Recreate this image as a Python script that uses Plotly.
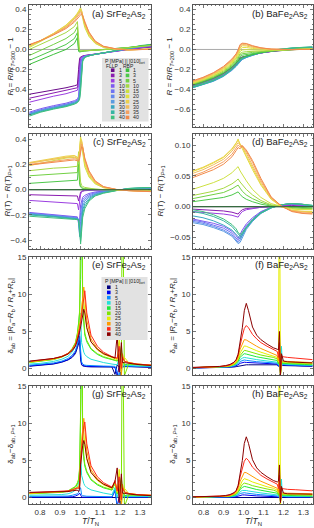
import plotly.graph_objects as go

W, H = 314, 528
FONT = "Liberation Sans, Arial, sans-serif"

P = [1, 3, 5, 10, 15, 20, 25, 30, 35, 40]
FLLP_COLORS = ['#6a0a8a', '#8a1cb0', '#9b3ee0', '#7e5af0', '#6f72f2', '#6488ec', '#5a9be0', '#3aa7c0', '#36b5a2', '#40c07e']
RBP_COLORS = ['#3cc03c', '#4cc84a', '#72d044', '#a6d844', '#cde040', '#e2e040', '#ecd04c', '#f2bc5c', '#f4a062', '#f28a4a']
DELTA_COLORS = ['#000080', '#0000f0', '#0a8cff', '#22e0d8', '#1ee83a', '#7fe600', '#e6ee00', '#ff9a00', '#ff2a1a', '#8b0000']

# ---------------- (a) SrFe2As2 R ----------------
TA = [0.747, 0.804, 0.867, 0.930, 0.972, 0.987, 0.993, 0.998, 1.003, 1.008, 1.0135, 1.024, 1.045, 1.076, 1.118, 1.181, 1.243, 1.306, 1.358]
A_FLLP = [
    [-0.45, -0.43, -0.41, -0.385, -0.365, -0.355, -0.20, -0.09, -0.075, -0.07, -0.065, -0.06, -0.055, -0.045, -0.035, -0.015, 0.0, 0.015, 0.025],
    [-0.49, -0.465, -0.44, -0.415, -0.395, -0.385, -0.30, -0.11, -0.08, -0.072, -0.067, -0.062, -0.056, -0.046, -0.035, -0.015, 0.002, 0.017, 0.028],
    [-0.53, -0.50, -0.47, -0.445, -0.42, -0.41, -0.36, -0.16, -0.09, -0.075, -0.068, -0.063, -0.057, -0.047, -0.036, -0.015, 0.003, 0.02, 0.03],
    [-0.63, -0.595, -0.565, -0.54, -0.515, -0.50, -0.47, -0.30, -0.13, -0.09, -0.075, -0.066, -0.058, -0.048, -0.036, -0.014, 0.006, 0.025, 0.036],
    [-0.64, -0.605, -0.575, -0.55, -0.525, -0.51, -0.49, -0.38, -0.17, -0.10, -0.08, -0.068, -0.059, -0.048, -0.036, -0.013, 0.008, 0.028, 0.04],
    [-0.645, -0.61, -0.58, -0.555, -0.53, -0.515, -0.50, -0.43, -0.22, -0.12, -0.085, -0.07, -0.06, -0.048, -0.035, -0.012, 0.01, 0.03, 0.042],
    [-0.65, -0.615, -0.585, -0.56, -0.535, -0.52, -0.505, -0.46, -0.28, -0.14, -0.09, -0.072, -0.06, -0.048, -0.035, -0.011, 0.012, 0.033, 0.045],
    [-0.655, -0.62, -0.59, -0.565, -0.54, -0.525, -0.51, -0.48, -0.33, -0.16, -0.10, -0.075, -0.062, -0.049, -0.035, -0.01, 0.014, 0.036, 0.048],
    [-0.66, -0.625, -0.595, -0.57, -0.545, -0.53, -0.515, -0.49, -0.38, -0.19, -0.11, -0.078, -0.063, -0.049, -0.034, -0.009, 0.016, 0.038, 0.05],
    [-0.67, -0.63, -0.60, -0.575, -0.55, -0.535, -0.52, -0.50, -0.42, -0.22, -0.12, -0.08, -0.064, -0.05, -0.034, -0.008, 0.018, 0.04, 0.052],
]
A_RBP = [
    [-0.15, -0.10, -0.05, 0.0, 0.06, 0.12, -0.02, -0.025, -0.022, -0.02, -0.018, -0.015, -0.012, -0.008, -0.003, 0.008, 0.02, 0.035, 0.045],
    [-0.11, -0.06, 0.0, 0.05, 0.11, 0.17, 0.0, -0.02, -0.02, -0.018, -0.016, -0.014, -0.011, -0.007, -0.002, 0.008, 0.02, 0.034, 0.044],
    [-0.06, -0.01, 0.05, 0.11, 0.17, 0.23, 0.02, -0.015, -0.018, -0.016, -0.015, -0.013, -0.01, -0.006, -0.002, 0.007, 0.019, 0.032, 0.042],
    [0.0, 0.05, 0.11, 0.17, 0.23, 0.28, 0.05, -0.01, -0.015, -0.014, -0.013, -0.012, -0.01, -0.006, -0.002, 0.006, 0.017, 0.03, 0.04],
    [0.02, 0.08, 0.15, 0.23, 0.31, 0.35, 0.37, 0.39, 0.40, 0.36, 0.30, 0.22, 0.13, 0.06, 0.02, 0.002, -0.003, 0.0, 0.005],
    [0.03, 0.09, 0.16, 0.245, 0.325, 0.365, 0.385, 0.405, 0.42, 0.39, 0.33, 0.24, 0.14, 0.065, 0.022, 0.002, -0.004, 0.0, 0.004],
    [0.035, 0.09, 0.16, 0.24, 0.32, 0.355, 0.375, 0.39, 0.405, 0.39, 0.34, 0.25, 0.15, 0.07, 0.025, 0.003, -0.004, 0.0, 0.004],
    [0.04, 0.09, 0.155, 0.23, 0.305, 0.34, 0.355, 0.37, 0.385, 0.38, 0.34, 0.26, 0.16, 0.075, 0.028, 0.004, -0.004, -0.001, 0.003],
    [0.045, 0.09, 0.15, 0.22, 0.29, 0.325, 0.34, 0.355, 0.37, 0.37, 0.34, 0.27, 0.17, 0.08, 0.03, 0.005, -0.004, -0.001, 0.003],
    [0.05, 0.09, 0.145, 0.21, 0.275, 0.305, 0.32, 0.335, 0.35, 0.355, 0.335, 0.27, 0.175, 0.085, 0.032, 0.006, -0.004, -0.002, 0.002],
]

# ---------------- (b) BaFe2As2 R ----------------
TB = [0.745, 0.797, 0.849, 0.900, 0.942, 0.963, 0.973, 0.983, 0.994, 1.014, 1.045, 1.087, 1.138, 1.190, 1.242, 1.293, 1.345]
B_FLLP = [
    [-0.355, -0.325, -0.29, -0.24, -0.18, -0.14, -0.11, -0.085, -0.075, -0.065, -0.05, -0.035, -0.02, -0.01, -0.003, 0.002, 0.005],
    [-0.36, -0.33, -0.295, -0.245, -0.185, -0.145, -0.12, -0.095, -0.08, -0.068, -0.052, -0.035, -0.018, -0.007, 0.0, 0.005, 0.008],
    [-0.365, -0.335, -0.30, -0.25, -0.19, -0.15, -0.125, -0.10, -0.085, -0.07, -0.053, -0.034, -0.016, -0.005, 0.003, 0.008, 0.011],
    [-0.37, -0.34, -0.305, -0.255, -0.195, -0.155, -0.13, -0.105, -0.09, -0.073, -0.054, -0.034, -0.015, -0.003, 0.005, 0.011, 0.014],
    [-0.375, -0.345, -0.31, -0.26, -0.20, -0.16, -0.135, -0.11, -0.095, -0.076, -0.055, -0.033, -0.014, -0.001, 0.007, 0.013, 0.017],
    [-0.38, -0.35, -0.315, -0.265, -0.205, -0.165, -0.14, -0.115, -0.098, -0.078, -0.056, -0.033, -0.013, 0.0, 0.009, 0.015, 0.019],
    [-0.385, -0.355, -0.32, -0.27, -0.21, -0.17, -0.145, -0.118, -0.10, -0.08, -0.057, -0.033, -0.012, 0.002, 0.011, 0.017, 0.021],
    [-0.385, -0.355, -0.318, -0.268, -0.207, -0.168, -0.143, -0.115, -0.098, -0.078, -0.055, -0.031, -0.01, 0.004, 0.013, 0.019, 0.023],
    [-0.38, -0.35, -0.312, -0.262, -0.20, -0.16, -0.135, -0.108, -0.092, -0.073, -0.051, -0.028, -0.008, 0.005, 0.014, 0.02, 0.025],
    [-0.375, -0.345, -0.307, -0.256, -0.195, -0.155, -0.13, -0.10, -0.085, -0.068, -0.047, -0.025, -0.006, 0.006, 0.015, 0.021, 0.026],
]
B_RBP = [
    [-0.36, -0.33, -0.29, -0.24, -0.18, -0.14, -0.115, -0.09, -0.078, -0.066, -0.05, -0.034, -0.018, -0.008, 0.0, 0.005, 0.008],
    [-0.355, -0.322, -0.283, -0.232, -0.17, -0.128, -0.10, -0.07, -0.058, -0.05, -0.04, -0.028, -0.015, -0.006, 0.0, 0.004, 0.007],
    [-0.35, -0.317, -0.277, -0.225, -0.16, -0.117, -0.088, -0.055, -0.043, -0.036, -0.03, -0.022, -0.012, -0.005, 0.0, 0.003, 0.006],
    [-0.345, -0.312, -0.27, -0.216, -0.15, -0.105, -0.075, -0.04, -0.028, -0.022, -0.02, -0.016, -0.009, -0.004, 0.0, 0.003, 0.005],
    [-0.34, -0.306, -0.263, -0.207, -0.14, -0.093, -0.06, -0.02, -0.005, -0.002, -0.005, -0.007, -0.005, -0.002, 0.0, 0.002, 0.004],
    [-0.335, -0.30, -0.256, -0.198, -0.128, -0.08, -0.045, 0.0, 0.02, 0.02, 0.01, 0.002, -0.002, -0.002, 0.0, 0.002, 0.003],
    [-0.33, -0.295, -0.25, -0.19, -0.118, -0.068, -0.032, 0.015, 0.038, 0.035, 0.02, 0.008, 0.0, -0.002, 0.0, 0.001, 0.002],
    [-0.325, -0.29, -0.244, -0.183, -0.11, -0.058, -0.02, 0.03, 0.05, 0.046, 0.028, 0.012, 0.002, -0.002, -0.001, 0.001, 0.002],
    [-0.32, -0.285, -0.238, -0.176, -0.102, -0.05, -0.01, 0.042, 0.058, 0.055, 0.034, 0.015, 0.003, -0.002, -0.001, 0.0, 0.001],
    [-0.315, -0.28, -0.233, -0.17, -0.095, -0.043, -0.003, 0.05, 0.063, 0.06, 0.038, 0.017, 0.004, -0.002, -0.002, 0.0, 0.0],
]

# ---------------- (c) SrFe2As2 dR ----------------
TC = [0.747, 0.804, 0.867, 0.930, 0.972, 0.987, 0.993, 0.998, 1.003, 1.008, 1.0135, 1.024, 1.045, 1.076, 1.118, 1.181, 1.243, 1.306, 1.358]
C_FLLP = [
    [0.0, 0.0, 0.0, 0.0, 0.0, 0.0, 0.0, 0.0, 0.0, 0.0, 0.0, 0.0, 0.0, 0.0, 0.0, 0.0, 0.0, 0.0, 0.0],
    [-0.04, -0.042, -0.044, -0.046, -0.048, -0.05, -0.09, -0.04, -0.02, -0.012, -0.008, -0.005, -0.003, -0.002, -0.001, 0.0, 0.002, 0.003, 0.003],
    [-0.085, -0.09, -0.095, -0.1, -0.105, -0.11, -0.16, -0.08, -0.035, -0.02, -0.013, -0.008, -0.005, -0.003, -0.001, 0.001, 0.003, 0.004, 0.005],
    [-0.18, -0.187, -0.196, -0.205, -0.21, -0.215, -0.27, -0.24, -0.12, -0.08, -0.06, -0.045, -0.03, -0.018, -0.01, -0.002, 0.005, 0.008, 0.01],
    [-0.185, -0.192, -0.2, -0.21, -0.215, -0.22, -0.25, -0.31, -0.18, -0.11, -0.08, -0.06, -0.04, -0.024, -0.013, -0.003, 0.006, 0.01, 0.012],
    [-0.19, -0.196, -0.205, -0.215, -0.22, -0.225, -0.24, -0.35, -0.25, -0.15, -0.1, -0.075, -0.05, -0.03, -0.016, -0.004, 0.007, 0.011, 0.013],
    [-0.19, -0.2, -0.21, -0.22, -0.225, -0.23, -0.235, -0.37, -0.32, -0.19, -0.13, -0.09, -0.06, -0.035, -0.019, -0.005, 0.008, 0.012, 0.014],
    [-0.195, -0.2, -0.21, -0.22, -0.226, -0.23, -0.235, -0.36, -0.38, -0.24, -0.16, -0.11, -0.07, -0.04, -0.022, -0.006, 0.009, 0.013, 0.015],
    [-0.2, -0.205, -0.215, -0.225, -0.23, -0.232, -0.236, -0.33, -0.41, -0.29, -0.19, -0.13, -0.08, -0.045, -0.025, -0.007, 0.009, 0.014, 0.016],
    [-0.21, -0.215, -0.225, -0.23, -0.235, -0.237, -0.24, -0.3, -0.43, -0.33, -0.22, -0.15, -0.09, -0.05, -0.028, -0.008, 0.01, 0.015, 0.017],
]
C_RBP = [
    [0.0, 0.0, 0.0, 0.0, 0.0, 0.0, 0.0, 0.0, 0.0, 0.0, 0.0, 0.0, 0.0, 0.0, 0.0, 0.0, 0.0, 0.0, 0.0],
    [0.05, 0.055, 0.06, 0.065, 0.07, 0.075, 0.2, 0.04, 0.02, 0.012, 0.008, 0.005, 0.003, 0.001, 0.0, -0.001, -0.002, -0.003, -0.003],
    [0.11, 0.115, 0.12, 0.125, 0.13, 0.135, 0.28, 0.07, 0.03, 0.018, 0.012, 0.008, 0.005, 0.002, 0.0, -0.001, -0.003, -0.004, -0.004],
    [0.15, 0.16, 0.17, 0.175, 0.18, 0.185, 0.3, 0.14, 0.06, 0.035, 0.025, 0.018, 0.01, 0.004, 0.001, -0.001, -0.003, -0.005, -0.006],
    [0.19, 0.21, 0.23, 0.25, 0.255, 0.245, 0.24, 0.3, 0.4, 0.35, 0.28, 0.18, 0.1, 0.045, 0.015, 0.0, -0.006, -0.01, -0.012],
    [0.21, 0.225, 0.245, 0.262, 0.268, 0.255, 0.248, 0.32, 0.42, 0.38, 0.31, 0.2, 0.11, 0.05, 0.017, 0.0, -0.007, -0.011, -0.013],
    [0.215, 0.23, 0.25, 0.265, 0.27, 0.258, 0.25, 0.3, 0.4, 0.39, 0.33, 0.22, 0.12, 0.055, 0.019, 0.001, -0.007, -0.011, -0.013],
    [0.21, 0.222, 0.24, 0.255, 0.258, 0.248, 0.242, 0.28, 0.37, 0.38, 0.34, 0.23, 0.13, 0.06, 0.02, 0.001, -0.008, -0.012, -0.014],
    [0.2, 0.212, 0.228, 0.242, 0.245, 0.238, 0.233, 0.26, 0.34, 0.36, 0.34, 0.24, 0.14, 0.065, 0.022, 0.002, -0.008, -0.012, -0.015],
    [0.195, 0.205, 0.22, 0.232, 0.235, 0.228, 0.225, 0.245, 0.31, 0.34, 0.33, 0.25, 0.15, 0.07, 0.024, 0.002, -0.008, -0.013, -0.016],
]

# ---------------- (d) BaFe2As2 dR ----------------
TD = [0.745, 0.797, 0.849, 0.900, 0.942, 0.963, 0.973, 0.983, 0.994, 1.014, 1.045, 1.087, 1.138, 1.190, 1.242, 1.293, 1.345]
D_FLLP = [
    [0.0, 0.0, 0.0, 0.0, 0.0, 0.0, 0.0, 0.0, 0.0, 0.0, 0.0, 0.0, 0.0, 0.0, 0.0, 0.0, 0.0],
    [-0.004, -0.005, -0.006, -0.007, -0.009, -0.011, -0.012, -0.008, -0.005, -0.003, -0.002, -0.001, 0.0, 0.001, 0.002, 0.001, 0.0],
    [-0.008, -0.009, -0.01, -0.012, -0.014, -0.016, -0.017, -0.012, -0.008, -0.005, -0.003, -0.001, 0.0, 0.002, 0.003, 0.002, 0.0],
    [-0.02, -0.023, -0.027, -0.032, -0.04, -0.047, -0.052, -0.045, -0.038, -0.028, -0.018, -0.008, -0.001, 0.003, 0.004, 0.003, 0.001],
    [-0.022, -0.025, -0.03, -0.035, -0.043, -0.05, -0.055, -0.05, -0.042, -0.031, -0.02, -0.009, -0.001, 0.003, 0.005, 0.003, 0.001],
    [-0.024, -0.027, -0.032, -0.038, -0.046, -0.053, -0.058, -0.054, -0.046, -0.034, -0.022, -0.01, -0.002, 0.003, 0.005, 0.004, 0.001],
    [-0.026, -0.029, -0.034, -0.04, -0.048, -0.055, -0.06, -0.058, -0.05, -0.037, -0.024, -0.011, -0.002, 0.003, 0.005, 0.004, 0.001],
    [-0.015, -0.018, -0.023, -0.03, -0.038, -0.045, -0.05, -0.052, -0.046, -0.035, -0.023, -0.011, -0.002, 0.003, 0.005, 0.004, 0.002],
    [-0.008, -0.011, -0.016, -0.023, -0.032, -0.04, -0.045, -0.048, -0.044, -0.034, -0.022, -0.01, -0.002, 0.003, 0.005, 0.004, 0.002],
    [-0.005, -0.008, -0.013, -0.02, -0.029, -0.036, -0.042, -0.045, -0.042, -0.033, -0.021, -0.01, -0.001, 0.003, 0.005, 0.004, 0.002],
]
D_RBP = [
    [0.0, 0.0, 0.0, 0.0, 0.0, 0.0, 0.0, 0.0, 0.0, 0.0, 0.0, 0.0, 0.0, 0.0, 0.0, 0.0, 0.0],
    [0.008, 0.01, 0.012, 0.015, 0.019, 0.022, 0.024, 0.02, 0.016, 0.012, 0.008, 0.004, 0.001, 0.0, -0.001, -0.002, -0.002],
    [0.013, 0.016, 0.019, 0.023, 0.029, 0.033, 0.035, 0.03, 0.025, 0.019, 0.013, 0.007, 0.002, 0.0, -0.002, -0.003, -0.003],
    [0.018, 0.021, 0.025, 0.03, 0.037, 0.042, 0.045, 0.04, 0.035, 0.028, 0.019, 0.01, 0.003, 0.0, -0.003, -0.004, -0.004],
    [0.028, 0.033, 0.039, 0.046, 0.055, 0.062, 0.065, 0.058, 0.052, 0.042, 0.028, 0.015, 0.005, 0.0, -0.004, -0.005, -0.005],
    [0.057, 0.063, 0.071, 0.08, 0.093, 0.103, 0.11, 0.1, 0.094, 0.08, 0.06, 0.035, 0.012, 0.0, -0.006, -0.008, -0.008],
    [0.058, 0.064, 0.072, 0.081, 0.094, 0.104, 0.108, 0.102, 0.097, 0.083, 0.063, 0.037, 0.013, 0.0, -0.006, -0.008, -0.009],
    [0.054, 0.06, 0.068, 0.077, 0.09, 0.1, 0.104, 0.1, 0.098, 0.087, 0.068, 0.04, 0.014, 0.001, -0.007, -0.009, -0.01],
    [0.05, 0.056, 0.064, 0.073, 0.085, 0.095, 0.1, 0.097, 0.099, 0.09, 0.072, 0.043, 0.015, 0.001, -0.007, -0.01, -0.011],
    [0.047, 0.053, 0.06, 0.069, 0.081, 0.091, 0.096, 0.094, 0.099, 0.092, 0.075, 0.046, 0.016, 0.001, -0.008, -0.011, -0.012],
]

# ---------------- (e) SrFe2As2 delta_ab ----------------
TE = [0.747, 0.804, 0.867, 0.909, 0.940, 0.961, 0.977, 0.987, 0.993, 0.998, 1.003, 1.008, 1.0135, 1.019, 1.024, 1.034, 1.055, 1.087, 1.118, 1.160, 1.175, 1.186, 1.196, 1.207, 1.212, 1.222, 1.243, 1.285, 1.358]
E_DELTA = [
    [0.3, 0.4, 0.6, 0.85, 1.15, 1.5, 2.0, 2.8, 3.5, 3.8, 1.2, 0.5, 0.35, 0.3, 0.28, 0.25, 0.22, 0.2, 0.2, 0.2, -0.8, 0.5, 0.2, 0.3, 0.2, 0.25, 0.25, 0.2, 0.15],
    [0.35, 0.45, 0.65, 0.9, 1.2, 1.6, 2.2, 3.1, 3.9, 4.4, 1.5, 0.6, 0.4, 0.35, 0.32, 0.3, 0.27, 0.25, 0.25, 0.25, 0.1, -0.9, 0.3, 0.2, 0.3, 0.3, 0.3, 0.25, 0.2],
    [0.45, 0.55, 0.75, 1.0, 1.35, 1.8, 2.4, 3.3, 4.2, 5.1, 2.5, 0.9, 0.6, 0.5, 0.45, 0.42, 0.38, 0.35, 0.33, 0.3, 0.3, -0.5, -0.9, 0.5, 0.3, 0.35, 0.35, 0.3, 0.25],
    [0.6, 0.7, 0.95, 1.25, 1.65, 2.2, 3.0, 4.2, 5.3, 6.5, 7.5, 3.5, 2.6, 2.2, 1.9, 1.6, 1.25, 1.0, 0.8, 0.6, 0.55, 0.5, 1.5, -0.5, 0.5, 0.45, 0.4, 0.35, 0.3],
    [0.8, 0.95, 1.2, 1.55, 2.0, 2.6, 3.4, 4.6, 5.8, 7.5, 12, 25, 8, 5.5, 4.5, 3.6, 2.6, 1.9, 1.5, 1.2, 1.1, 1.0, 1.5, 3.0, 1.0, 0.5, 0.6, 0.5, 0.4],
    [0.85, 1.0, 1.25, 1.6, 2.05, 2.7, 3.5, 4.8, 6.0, 7.8, 13, 30, 9, 6, 4.8, 3.8, 2.7, 2.0, 1.6, 1.25, 1.15, 1.05, 1.2, 1.6, 30, -1, 0.6, 0.5, 0.4],
    [0.85, 1.0, 1.25, 1.55, 1.95, 2.5, 3.2, 4.2, 5.0, 5.8, 6.8, 8.0, 9.5, 9.0, 7.5, 5.5, 3.6, 2.5, 1.9, 1.4, 1.3, 1.2, 4.0, -1.0, 1.0, 1.5, 0.8, 0.6, 0.45],
    [0.9, 1.05, 1.3, 1.6, 2.0, 2.5, 3.2, 4.1, 4.8, 5.6, 6.6, 7.8, 9.5, 11.0, 9.5, 6.5, 4.0, 2.7, 2.0, 1.5, 1.4, 1.3, 2.0, -0.9, 2.0, 1.0, 0.8, 0.6, 0.45],
    [0.95, 1.1, 1.35, 1.65, 2.05, 2.55, 3.2, 4.1, 4.7, 5.4, 6.3, 7.3, 8.7, 10.0, 10.5, 7.5, 4.5, 3.0, 2.2, 1.6, 1.5, 1.4, 3.0, 0.0, 1.5, 1.0, 0.8, 0.6, 0.45],
    [1.0, 1.15, 1.35, 1.6, 1.95, 2.4, 3.0, 3.8, 4.3, 4.9, 5.6, 6.4, 7.4, 8.0, 7.5, 5.5, 3.6, 2.6, 2.0, 1.5, 1.4, 4.5, -0.5, 3.5, 0.8, 0.8, 0.7, 0.55, 0.4],
]

# ---------------- (g) SrFe2As2 delta_ab - delta_ab(P=1) ----------------
TG = [0.747, 0.804, 0.867, 0.909, 0.940, 0.961, 0.977, 0.987, 0.993, 0.998, 1.003, 1.008, 1.0135, 1.019, 1.024, 1.034, 1.055, 1.087, 1.118, 1.160, 1.175, 1.186, 1.196, 1.207, 1.212, 1.222, 1.243, 1.285, 1.358]
G_DELTA = [
    [0.0, 0.0, 0.0, 0.0, 0.0, 0.0, 0.0, 0.0, 0.0, 0.0, 0.0, 0.0, 0.0, 0.0, 0.0, 0.0, 0.0, 0.0, 0.0, 0.0, 0.0, 0.0, 0.0, 0.0, 0.0, 0.0, 0.0, 0.0, 0.0],
    [0.05, 0.05, 0.05, 0.05, 0.05, 0.1, 0.2, 0.3, 0.4, 0.6, 0.3, 0.1, 0.05, 0.05, 0.04, 0.05, 0.05, 0.05, 0.05, 0.05, 0.9, -1.2, 0.1, -0.1, 0.1, 0.05, 0.05, 0.05, 0.05],
    [0.15, 0.15, 0.15, 0.15, 0.2, 0.3, 0.4, 0.5, 0.7, 1.3, 1.3, 0.4, 0.25, 0.2, 0.17, 0.17, 0.16, 0.15, 0.13, 0.1, 1.1, -1.0, -1.1, 0.2, 0.1, 0.1, 0.1, 0.1, 0.1],
    [0.3, 0.3, 0.35, 0.4, 0.5, 0.7, 1.0, 1.4, 1.8, 2.7, 6.3, 3.0, 2.25, 1.9, 1.62, 1.35, 1.03, 0.8, 0.6, 0.4, 1.35, 0.0, 1.3, -0.8, 0.3, 0.2, 0.15, 0.15, 0.15],
    [0.5, 0.55, 0.6, 0.7, 0.85, 1.1, 1.4, 1.8, 2.3, 3.7, 10.8, 24.5, 7.65, 5.2, 4.22, 3.35, 2.38, 1.7, 1.3, 1.0, 1.9, 0.5, 1.3, 2.7, 0.8, 0.25, 0.35, 0.3, 0.25],
    [0.55, 0.6, 0.65, 0.75, 0.9, 1.2, 1.5, 2.0, 2.5, 4.0, 11.8, 29.5, 8.65, 5.7, 4.52, 3.55, 2.48, 1.8, 1.4, 1.05, 1.95, 0.55, 1.0, 1.3, 29.8, -1.25, 0.35, 0.3, 0.25],
    [0.55, 0.6, 0.65, 0.7, 0.8, 1.0, 1.2, 1.4, 1.5, 2.0, 5.6, 7.5, 9.15, 8.7, 7.22, 5.25, 3.38, 2.3, 1.7, 1.2, 2.1, 0.7, 3.8, -1.3, 0.8, 1.25, 0.55, 0.4, 0.3],
    [0.6, 0.65, 0.7, 0.75, 0.85, 1.0, 1.2, 1.3, 1.3, 1.8, 5.4, 7.3, 9.15, 10.7, 9.22, 6.25, 3.78, 2.5, 1.8, 1.3, 2.2, 0.8, 1.8, -1.2, 1.8, 0.75, 0.55, 0.4, 0.3],
    [0.65, 0.7, 0.75, 0.8, 0.9, 1.05, 1.2, 1.3, 1.2, 1.6, 5.1, 6.8, 8.35, 9.7, 10.2, 7.25, 4.28, 2.8, 2.0, 1.4, 2.3, 0.9, 2.8, -0.3, 1.3, 0.75, 0.55, 0.4, 0.3],
    [0.7, 0.75, 0.75, 0.75, 0.8, 0.9, 1.0, 1.0, 0.8, 1.1, 4.4, 5.9, 7.05, 7.7, 7.2, 5.25, 3.38, 2.4, 1.8, 1.3, 2.2, 4.0, -0.7, 3.2, 0.6, 0.55, 0.45, 0.35, 0.25],
]

# ---------------- (f) BaFe2As2 delta_ab ----------------
TF = [0.745, 0.828, 0.880, 0.911, 0.932, 0.952, 0.963, 0.973, 0.983, 0.994, 1.004, 1.014, 1.025, 1.045, 1.066, 1.087, 1.118, 1.149, 1.169, 1.175, 1.180, 1.185, 1.190, 1.195, 1.200, 1.221, 1.262, 1.304, 1.345]
F_DELTA = [
    [0.05, 0.08, 0.1, 0.12, 0.15, 0.2, 0.25, 0.3, 0.4, 0.45, 0.5, 0.5, 0.5, 0.5, 0.5, 0.5, 0.5, 0.5, 0.5, 0.3, 0.6, -0.3, 0.5, 0.4, 0.4, 0.4, 0.35, 0.3, 0.3],
    [0.08, 0.1, 0.13, 0.16, 0.2, 0.28, 0.36, 0.5, 0.7, 0.8, 0.85, 0.82, 0.8, 0.75, 0.72, 0.7, 0.68, 0.65, 0.6, 0.3, 0.8, -0.4, 0.6, 0.5, 0.5, 0.45, 0.4, 0.35, 0.35],
    [0.1, 0.12, 0.15, 0.19, 0.24, 0.34, 0.45, 0.65, 0.95, 1.1, 1.15, 1.1, 1.05, 0.98, 0.92, 0.88, 0.82, 0.78, 0.72, 0.4, 1.0, -0.5, 0.7, 0.6, 0.55, 0.5, 0.45, 0.4, 0.4],
    [0.1, 0.13, 0.17, 0.22, 0.28, 0.4, 0.55, 0.8, 1.2, 1.4, 1.5, 1.45, 1.38, 1.28, 1.2, 1.12, 1.02, 0.95, 0.85, 0.5, 1.2, -0.6, 3.0, 0.5, 0.6, 0.55, 0.5, 0.45, 0.45],
    [0.1, 0.14, 0.19, 0.25, 0.32, 0.48, 0.66, 0.98, 1.5, 1.8, 2.0, 1.95, 1.85, 1.7, 1.58, 1.48, 1.35, 1.22, 1.08, 0.6, 1.5, -0.8, 0.8, 0.7, 0.7, 0.65, 0.6, 0.55, 0.5],
    [0.1, 0.15, 0.2, 0.27, 0.35, 0.53, 0.75, 1.12, 1.75, 2.2, 2.45, 2.4, 2.3, 2.1, 1.95, 1.82, 1.65, 1.5, 1.3, 0.7, 1.8, -0.9, 0.9, 0.8, 0.8, 0.75, 0.7, 0.65, 0.6],
    [0.1, 0.15, 0.21, 0.29, 0.38, 0.6, 0.85, 1.3, 2.1, 2.7, 3.05, 3.0, 2.85, 2.6, 2.4, 2.2, 1.95, 1.75, 1.5, 0.9, 30, -1, 1.0, 0.9, 0.9, 0.85, 0.8, 0.75, 0.7],
    [0.1, 0.16, 0.22, 0.31, 0.42, 0.68, 0.98, 1.55, 2.6, 3.4, 3.9, 3.85, 3.65, 3.3, 3.0, 2.7, 2.35, 2.05, 1.75, 1.0, 2.5, -0.9, 1.1, 1.0, 1.0, 0.95, 0.9, 0.85, 0.8],
    [0.12, 0.18, 0.25, 0.35, 0.48, 0.8, 1.15, 1.9, 3.2, 4.4, 5.4, 5.8, 5.5, 4.6, 4.0, 3.5, 3.0, 2.6, 2.3, 1.5, 3.5, -0.8, 1.8, 1.6, 1.6, 1.5, 1.4, 1.3, 1.2],
    [0.15, 0.2, 0.28, 0.4, 0.55, 0.85, 1.2, 1.9, 3.5, 5.5, 7.8, 8.8, 7.8, 5.6, 4.5, 3.9, 3.3, 2.8, 2.6, 2.5, 5.0, -1.0, 2.0, 1.2, 1.0, 0.9, 0.85, 0.8, 0.75],
]

# ---------------- (h) BaFe2As2 delta_ab - delta_ab(P=1) ----------------
TH = [0.745, 0.828, 0.880, 0.911, 0.932, 0.952, 0.963, 0.973, 0.983, 0.994, 1.004, 1.014, 1.025, 1.045, 1.066, 1.087, 1.118, 1.149, 1.169, 1.175, 1.180, 1.185, 1.190, 1.195, 1.200, 1.221, 1.262, 1.304, 1.345]
H_DELTA = [
    [0.0, 0.0, 0.0, 0.0, 0.0, 0.0, 0.0, 0.0, 0.0, 0.0, 0.0, 0.0, 0.0, 0.0, 0.0, 0.0, 0.0, 0.0, 0.0, 0.0, 0.0, 0.0, 0.0, 0.0, 0.0, 0.0, 0.0, 0.0, 0.0],
    [0.03, 0.02, 0.03, 0.04, 0.05, 0.08, 0.11, 0.2, 0.3, 0.35, 0.35, 0.32, 0.3, 0.25, 0.22, 0.2, 0.18, 0.15, 0.1, 0.0, 0.2, -0.1, 0.1, 0.1, 0.1, 0.05, 0.05, 0.05, 0.05],
    [0.05, 0.04, 0.05, 0.07, 0.09, 0.14, 0.2, 0.35, 0.55, 0.65, 0.65, 0.6, 0.55, 0.48, 0.42, 0.38, 0.32, 0.28, 0.22, 0.1, 0.4, -0.2, 0.2, 0.2, 0.15, 0.1, 0.1, 0.1, 0.1],
    [0.05, 0.05, 0.07, 0.1, 0.13, 0.2, 0.3, 0.5, 0.8, 0.95, 1.0, 0.95, 0.88, 0.78, 0.7, 0.62, 0.52, 0.45, 0.35, 0.2, 0.6, -0.3, 2.5, 0.1, 0.2, 0.15, 0.15, 0.15, 0.15],
    [0.05, 0.06, 0.09, 0.13, 0.17, 0.28, 0.41, 0.68, 1.1, 1.35, 1.5, 1.45, 1.35, 1.2, 1.08, 0.98, 0.85, 0.72, 0.58, 0.3, 0.9, -0.5, 0.3, 0.3, 0.3, 0.25, 0.25, 0.25, 0.2],
    [0.05, 0.07, 0.1, 0.15, 0.2, 0.33, 0.5, 0.82, 1.35, 1.75, 1.95, 1.9, 1.8, 1.6, 1.45, 1.32, 1.15, 1.0, 0.8, 0.4, 1.2, -0.6, 0.4, 0.4, 0.4, 0.35, 0.35, 0.35, 0.3],
    [0.05, 0.07, 0.11, 0.17, 0.23, 0.4, 0.6, 1.0, 1.7, 2.25, 2.55, 2.5, 2.35, 2.1, 1.9, 1.7, 1.45, 1.25, 1.0, 0.6, 30, -1, 0.5, 0.5, 0.5, 0.45, 0.45, 0.45, 0.4],
    [0.05, 0.08, 0.12, 0.19, 0.27, 0.48, 0.73, 1.25, 2.2, 2.95, 3.4, 3.35, 3.15, 2.8, 2.5, 2.2, 1.85, 1.55, 1.25, 0.7, 1.9, -0.6, 0.6, 0.6, 0.6, 0.55, 0.55, 0.55, 0.5],
    [0.07, 0.1, 0.15, 0.23, 0.33, 0.6, 0.9, 1.6, 2.8, 3.95, 4.9, 5.3, 5.0, 4.1, 3.5, 3.0, 2.5, 2.1, 1.8, 1.2, 3.0, -0.5, 1.3, 1.2, 1.2, 1.1, 1.05, 1.0, 0.9],
    [0.1, 0.12, 0.18, 0.28, 0.4, 0.65, 0.95, 1.6, 3.1, 5.0, 7.3, 8.2, 7.3, 5.1, 4.0, 3.4, 2.8, 2.3, 2.1, 2.2, 4.4, -0.7, 1.5, 0.8, 0.6, 0.5, 0.5, 0.5, 0.45],
]

# ---------------- layout geometry (pixels) ----------------
COLS = {'L': (29, 151), 'R': (193, 313)}
ROWS = [(1, 124), (131, 247), (255, 374), (385, 504)]
XR = {'L': [0.745, 1.355], 'R': [0.747, 1.348]}


def pxx(x):
    return x / W


def pxy(y):
    return 1 - y / H


fig = go.Figure()

panels = [
    (1, 'L', 0, TA, [(A_FLLP, FLLP_COLORS), (A_RBP, RBP_COLORS)], [-0.78, 0.447], 0.2, '.1f', 0.05),
    (2, 'R', 0, TB, [(B_FLLP, FLLP_COLORS), (B_RBP, RBP_COLORS)], [-0.78, 0.447], 0.2, '.1f', 0.05),
    (3, 'L', 1, TC, [(C_FLLP, FLLP_COLORS), (C_RBP, RBP_COLORS)], [-0.47, 0.44], 0.2, '.1f', 0.05),
    (4, 'R', 1, TD, [(D_FLLP, FLLP_COLORS), (D_RBP, RBP_COLORS)], [-0.069, 0.118], 0.05, '.2f', 0.01),
    (5, 'L', 2, TE, [(E_DELTA, DELTA_COLORS)], [-0.9, 15.05], 5, 'd', 1),
    (6, 'R', 2, TF, [(F_DELTA, DELTA_COLORS)], [-0.9, 15.05], 5, 'd', 1),
    (7, 'L', 3, TG, [(G_DELTA, DELTA_COLORS)], [-0.9, 15.05], 5, 'd', 1),
    (8, 'R', 3, TH, [(H_DELTA, DELTA_COLORS)], [-0.9, 15.05], 5, 'd', 1),
]

AXC = '#555555'
shapes = []
annotations = []

for n, col, row, T, fams, yr, dt, tf, mn in panels:
    xa = 'x' if n == 1 else f'x{n}'
    ya = 'y' if n == 1 else f'y{n}'
    for vals_list, colors in fams:
        for vals, c in zip(vals_list, colors):
            if len(vals) != len(T):
                raise ValueError(f'panel {n}: length mismatch {len(vals)} vs {len(T)}')
            fig.add_trace(go.Scatter(x=T, y=vals, mode='lines', line=dict(color=c, width=1),
                                     xaxis=xa, yaxis=ya, showlegend=False, hoverinfo='skip'))
    x0, x1 = COLS[col]
    y0, y1 = ROWS[row]
    common = dict(showline=True, linecolor=AXC, linewidth=1, mirror='allticks', ticks='inside',
                  ticklen=3, tickwidth=0.8, tickcolor=AXC, showgrid=False, zeroline=False,
                  tickfont=dict(size=8, color='#333', family=FONT))
    xkey = 'xaxis' if n == 1 else f'xaxis{n}'
    ykey = 'yaxis' if n == 1 else f'yaxis{n}'
    fig.layout[xkey] = dict(common, domain=[pxx(x0), pxx(x1)], range=XR[col], anchor=ya,
                            dtick=0.1, tick0=0.8, tickformat='.1f', showticklabels=(row == 3),
                            minor=dict(dtick=0.02, ticklen=1.5, tickcolor=AXC, ticks='inside'))
    fig.layout[ykey] = dict(common, domain=[pxy(y1), pxy(y0)], range=yr, anchor=xa,
                            dtick=dt, tick0=0, tickformat=tf,
                            minor=dict(dtick=mn, ticklen=1.5, tickcolor=AXC, ticks='inside'))

for n, colr, lay in [(1, '#aaaaaa', 'below'), (2, '#aaaaaa', 'below'), (3, '#35603f', 'above'), (4, '#35603f', 'above')]:
    xa = 'x' if n == 1 else f'x{n}'
    ya = 'y' if n == 1 else f'y{n}'
    shapes.append(dict(type='line', xref=f'{xa} domain', x0=0, x1=1, yref=ya, y0=0, y1=0,
                       line=dict(color=colr, width=1), layer=lay))


def ann(text, x, y, size, **kw):
    d = dict(text=text, x=pxx(x), y=pxy(y), xref='paper', yref='paper', showarrow=False,
             font=dict(size=size, color='#222', family=FONT))
    d.update(kw)
    return d


SR = 'SrFe<sub>2</sub>As<sub>2</sub>'
BA = 'BaFe<sub>2</sub>As<sub>2</sub>'
labels = [('(a) ' + SR, 148, 10), ('(b) ' + BA, 310, 10), ('(c) ' + SR, 148, 139), ('(d) ' + BA, 310, 139),
          ('(e) ' + SR, 148, 263), ('(f) ' + BA, 310, 263), ('(g) ' + SR, 148, 393), ('(h) ' + BA, 310, 393)]
for t, x, y in labels:
    annotations.append(ann(t, x, y, 9.5, xanchor='right', yanchor='middle'))

RT = '<i>R</i> = <i>R</i>/<i>R</i><sub><i>T</i>=%d</sub> − 1'
DR = '<i>R</i>(<i>T</i>) − <i>R</i>(<i>T</i>)<sub><i>P</i>=1</sub>'
DAB = 'δ<sub>ab</sub> = |<i>R</i><sub>a</sub>−<i>R</i><sub>b</sub> / <i>R</i><sub>a</sub>+<i>R</i><sub>b</sub>|'
DDAB = 'δ<sub>ab</sub>−δ<sub>ab, <i>P</i>=1</sub>'
ytitles = [(RT % 300, 11, 63), (RT % 200, 170, 63), (DR, 8, 189), (DR, 161, 189),
           (DAB, 11, 314), (DAB, 173, 314), (DDAB, 11, 444), (DDAB, 173, 444)]
for t, x, y in ytitles:
    annotations.append(ann(t, x, y, 8, textangle=-90, xanchor='center', yanchor='middle'))

for x in (90, 253):
    annotations.append(ann('<i>T</i>/<i>T</i><sub>N</sub>', x, 521, 8.5, xanchor='center', yanchor='middle'))

LEG_BG = '#e2e2e2'
shapes.append(dict(type='rect', xref='paper', yref='paper', x0=pxx(102), x1=pxx(148.5), y0=pxy(118.5), y1=pxy(54.5),
                   fillcolor=LEG_BG, line=dict(width=0), layer='above'))
annotations.append(ann('P [MPa] || [010]<sub>ort</sub>', 125, 58.3, 5.2, xanchor='center', yanchor='middle'))
annotations.append(ann('FLLP', 113, 62.3, 5, xanchor='center', yanchor='middle'))
annotations.append(ann('RBP', 128, 62.3, 5, xanchor='center', yanchor='middle'))
for i, p in enumerate(P):
    yc = 66.7 + i * 5.29
    for sx, lx, cl in [(112.7, 116.6, FLLP_COLORS[i]), (127.5, 131.4, RBP_COLORS[i])]:
        shapes.append(dict(type='rect', xref='paper', yref='paper', x0=pxx(sx - 1.8), x1=pxx(sx + 1.8),
                           y0=pxy(yc + 1.8), y1=pxy(yc - 1.8), fillcolor=cl, line=dict(width=0), layer='above'))
        annotations.append(ann(str(p), lx, yc, 5.2, xanchor='left', yanchor='middle'))

shapes.append(dict(type='rect', xref='paper', yref='paper', x0=pxx(101.5), x1=pxx(147.5), y0=pxy(338.5), y1=pxy(275),
                   fillcolor=LEG_BG, line=dict(width=0), layer='above'))
annotations.append(ann('P [MPa] || [010]<sub>ort</sub>', 124.5, 279.3, 5.2, xanchor='center', yanchor='middle'))
for i, p in enumerate(P):
    yc = 285.4 + i * 5.25
    shapes.append(dict(type='rect', xref='paper', yref='paper', x0=pxx(108.8 - 1.8), x1=pxx(108.8 + 1.8),
                       y0=pxy(yc + 1.8), y1=pxy(yc - 1.8), fillcolor=DELTA_COLORS[i], line=dict(width=0), layer='above'))
    annotations.append(ann(str(p), 113, yc, 5.2, xanchor='left', yanchor='middle'))

fig.update_layout(width=W, height=H, autosize=False, margin=dict(l=0, r=0, t=0, b=0),
                  paper_bgcolor='white', plot_bgcolor='white', showlegend=False,
                  shapes=shapes, annotations=annotations, font=dict(family=FONT))

fig.write_html('out.html', config={'displayModeBar': False, 'staticPlot': True},
               post_script="document.body.style.margin='0';document.body.style.overflow='hidden';")
